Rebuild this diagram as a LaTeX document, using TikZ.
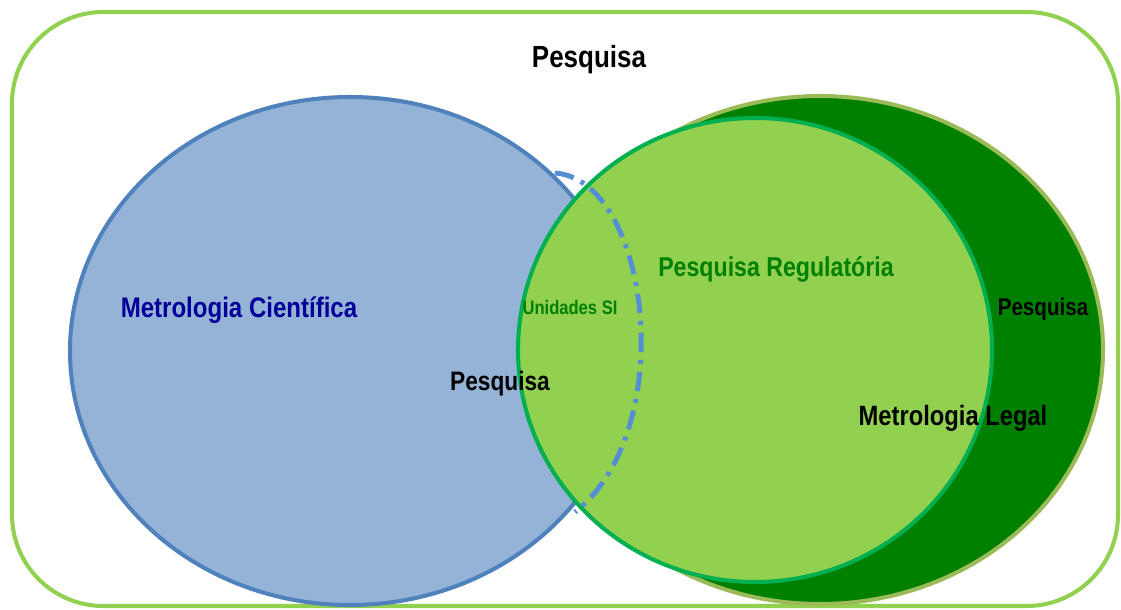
\documentclass[tikz,border=0pt]{standalone}
\usepackage{fontspec}
\setmainfont[FakeStretch=0.85]{Liberation Sans}
\definecolor{boxgreen}{HTML}{92D050}
\definecolor{cifill}{HTML}{95B3D7}
\definecolor{cidraw}{HTML}{4F81BD}
\definecolor{legfill}{HTML}{008000}
\definecolor{legdraw}{HTML}{9BBB59}
\definecolor{regdraw}{HTML}{00B050}
\definecolor{siline}{HTML}{558ED5}
\definecolor{ciblue}{HTML}{000099}

\tikzset{
  lbl/.style={anchor=base, inner sep=0pt, font=\bfseries},
  area/.style={line width=2.3pt},
}

\begin{document}
\begin{tikzpicture}[x=0.02cm, y=-0.02cm]
  \useasboundingbox (0,0) rectangle (1121,609);

  \draw[boxgreen, line width=2.3pt, rounded corners=52pt] (12,12) rectangle (1118,606);

  \draw[area, draw=cidraw, fill=cifill] (350,351) ellipse [x radius=280, y radius=254];
  \draw[area, draw=legdraw, fill=legfill] (820,350) ellipse [x radius=283, y radius=254];
  \draw[area, draw=regdraw, fill=boxgreen] (755,350) ellipse [x radius=237, y radius=232];

  \coordinate (si-top) at (555,173);
  \coordinate (si-bot) at (575,512);
  \draw[siline, line width=2.8pt, dash pattern=on 11pt off 4.5pt on 2.3pt off 4.5pt]
    (si-top) .. controls (650,180) and (680,430) .. (si-bot);

  \node[lbl, font=\bfseries\fontsize{17.4}{20}\selectfont] (title) at (589,67) {Pesquisa};
  \node[lbl, ciblue, font=\bfseries\fontsize{16.1}{19}\selectfont] (cient) at (239,317) {Metrologia Científica};
  \node[lbl, legfill, font=\bfseries\fontsize{11.1}{13}\selectfont] (si) at (570,314) {Unidades SI};
  \node[lbl, font=\bfseries\fontsize{15.2}{18}\selectfont] (pesq-mid) at (500,390) {Pesquisa};
  \node[lbl, legfill, font=\bfseries\fontsize{15.5}{18}\selectfont] (reg) at (776,276) {Pesquisa Regulatória};
  \node[lbl, font=\bfseries\fontsize{13.8}{16}\selectfont] (pesq-leg) at (1043,315) {Pesquisa};
  \node[lbl, font=\bfseries\fontsize{15.9}{18}\selectfont] (legal) at (953,425) {Metrologia Legal};
\end{tikzpicture}
\end{document}
